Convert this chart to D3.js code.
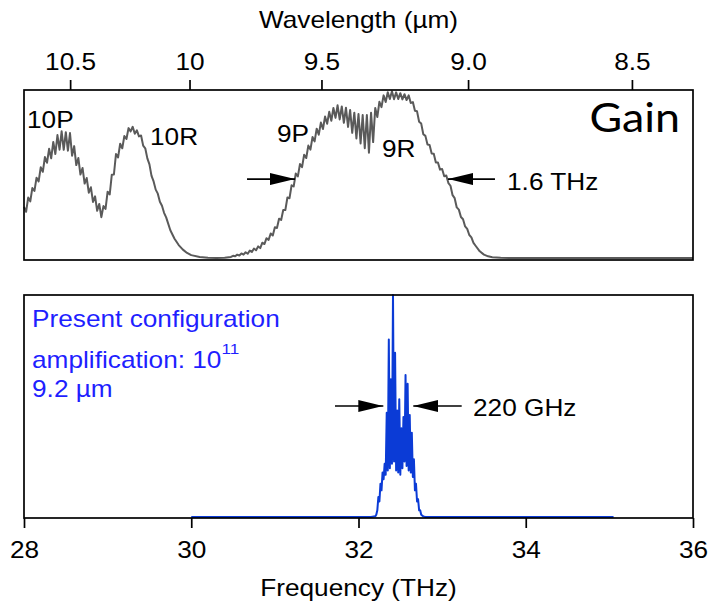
<!DOCTYPE html>
<html>
<head>
<meta charset="utf-8">
<script src="https://cdn.jsdelivr.net/npm/d3@7"></script>
<style>
  body { margin: 0; background: #fff; }
</style>
</head>
<body>
<svg id="chart" width="709" height="607"></svg>
<script>
const C_LIGHT = 299.792458; // THz * um

const freqTicks = [28, 30, 32, 34, 36];
const wavelengthTicks = [10.5, 10, 9.5, 9.0, 8.5];
const wavelengthLabels = ["10.5", "10", "9.5", "9.0", "8.5"];

// CO2 gain spectrum, [frequency THz, gain arb. units]
const gainCurve = [
  [28.000,30.4],[28.025,27.5],[28.050,36.0],[28.075,33.7],[28.100,41.7],[28.125,39.9],[28.150,47.8],[28.175,45.6],
  [28.200,54.0],[28.225,51.3],[28.250,60.1],[28.275,56.7],[28.300,65.0],[28.325,59.3],[28.350,69.1],[28.375,61.9],
  [28.400,73.2],[28.425,64.5],[28.450,75.4],[28.475,64.4],[28.500,74.9],[28.525,63.9],[28.550,74.4],[28.575,60.9],
  [28.600,66.6],[28.625,55.3],[28.650,59.5],[28.675,49.7],[28.700,53.6],[28.725,44.3],[28.750,47.6],[28.775,38.9],
  [28.800,42.1],[28.825,33.4],[28.850,36.7],[28.875,28.1],[28.900,32.2],[28.925,24.3],[28.950,30.9],[28.975,29.2],
  [29.000,39.5],[29.025,37.8],[29.050,49.6],[29.075,49.7],[29.100,61.9],[29.125,59.9],[29.150,68.0],[29.175,65.3],
  [29.200,72.6],[29.225,70.8],[29.250,77.3],[29.275,75.4],[29.300,78.1],[29.325,74.0],[29.350,76.0],[29.375,72.4],
  [29.400,72.9],[29.425,66.9],[29.450,65.3],[29.475,59.3],[29.500,55.7],[29.525,48.9],[29.550,45.6],[29.575,40.7],
  [29.600,38.3],[29.625,33.5],[29.650,31.1],[29.675,26.9],[29.700,24.2],
  [29.75,16.5],[29.80,11.5],[29.85,7.7],[29.90,5.0],[29.95,3.0],[30.00,1.7],[30.10,0.6],[30.20,0.1],[30.30,0.0],
  [30.40,0.1],[30.475,0.6],
  [30.500,1.3],[30.525,1.0],[30.550,2.0],[30.575,1.5],[30.600,2.7],[30.625,2.0],[30.650,3.4],[30.675,2.5],
  [30.700,4.4],[30.725,3.6],[30.750,5.6],[30.775,4.6],[30.800,6.9],[30.825,5.9],[30.850,9.1],[30.875,8.3],
  [30.900,11.8],[30.925,10.8],[30.950,14.6],[30.975,13.4],[31.000,18.3],[31.025,17.9],[31.050,23.4],[31.075,22.6],
  [31.100,28.6],[31.125,28.5],[31.150,36.0],[31.175,35.6],[31.200,43.3],[31.225,42.6],[31.250,50.3],[31.275,48.6],
  [31.300,55.9],[31.325,54.1],[31.350,61.5],[31.375,59.5],[31.400,66.9],[31.425,64.5],[31.450,72.0],[31.475,69.4],
  [31.500,77.0],[31.525,73.4],[31.550,80.6],[31.575,76.8],[31.600,84.2],[31.625,79.9],[31.650,87.0],[31.675,81.7],
  [31.700,89.3],[31.725,83.4],[31.750,90.9],[31.775,82.5],[31.800,90.2],[31.825,80.5],[31.850,89.5],[31.875,78.0],
  [31.900,88.1],[31.925,74.5],[31.950,86.5],[31.975,71.2],[32.000,85.7],[32.025,68.2],[32.050,85.1],[32.075,65.3],
  [32.100,85.1],[32.125,62.7],[32.150,86.5],[32.175,69.0],[32.200,89.3],[32.225,83.9],[32.250,93.0],[32.275,89.8],
  [32.300,96.8],[32.325,92.9],[32.350,98.7],[32.375,94.6],[32.400,99.2],[32.425,94.5],[32.450,98.6],[32.475,94.6],
  [32.500,98.1],[32.525,94.4],[32.550,97.5],[32.575,94.0],[32.600,96.8],[32.625,92.3],[32.650,92.8],[32.675,87.6],
  [32.700,87.3],[32.725,81.1],[32.750,80.0],[32.775,73.7],[32.800,72.7],[32.825,67.5],[32.850,67.3],[32.875,62.2],
  [32.900,62.0],[32.925,56.9],[32.950,56.9],[32.975,52.6],[33.000,53.0],[33.025,48.7],[33.050,49.1],[33.075,44.6],
  [33.100,43.0],[33.125,37.4],[33.150,35.6],[33.175,30.1],[33.200,28.8],[33.225,24.4],[33.250,23.1],[33.275,18.8],
  [33.300,17.3],[33.325,13.7],[33.350,12.3],[33.375,9.0],[33.400,7.3],
  [33.45,4.0],[33.50,2.0],[33.55,1.0],[33.60,0.5],[33.70,0.2],[33.80,0.05],[34.00,0],[36.00,0]
];

// amplified pulse spectrum, [frequency THz, normalised intensity]
const pulseSpectrum = [
  [30.00,0],[32.15,0],[32.20,0.003],[32.2125,0.01],[32.225,0.03],[32.2375,0.09],[32.25,0.07],[32.2625,0.15],
  [32.275,0.12],[32.2875,0.20],[32.30,0.17],[32.3125,0.24],[32.325,0.19],[32.3375,0.47],[32.35,0.21],
  [32.3625,0.80],[32.375,0.22],[32.3875,0.62],[32.40,0.24],[32.4125,1.00],[32.425,0.25],[32.4375,0.74],
  [32.45,0.21],[32.4625,0.48],[32.475,0.20],[32.4875,0.53],[32.50,0.19],[32.5125,0.40],[32.525,0.22],
  [32.5375,0.45],[32.55,0.25],[32.5625,0.64],[32.575,0.23],[32.5875,0.60],[32.60,0.21],[32.6125,0.46],
  [32.625,0.20],[32.6375,0.38],[32.65,0.18],[32.6625,0.26],[32.675,0.12],[32.6875,0.15],[32.70,0.07],
  [32.7125,0.08],[32.725,0.03],[32.7375,0.03],[32.75,0.01],[32.775,0.003],[32.80,0],[35.05,0]
];

const gainNotes = [
  { text: "10P", f: 28.036, g: 77.4 },
  { text: "10R", f: 29.507, g: 67.3 },
  { text: "9P", f: 31.025, g: 69.0 },
  { text: "9R", f: 32.281, g: 60.1 },
  { text: "1.6 THz", f: 33.776, g: 40.5 }
];
const gainArrows = [
  { from: 30.667, to: 31.241, g: 47 },
  { from: 33.632, to: 33.070, g: 47 }
];
const pulseArrows = [
  { from: 31.719, to: 32.297, v: 0.5 },
  { from: 33.234, to: 32.655, v: 0.5 }
];
const configLines = [
  { text: "Present configuration", v: 0.856 },
  { text: "amplification: 10", sup: "11", v: 0.671 },
  { text: "9.2 \u00b5m", v: 0.541 }
];

const FONT = "'Liberation Sans', Arial, Helvetica, sans-serif";
const SX = 1.14; // the figure is a bit wider than its text
const svg = d3.select("#chart");

const x = d3.scaleLinear().domain([28, 36]).range([24, 693]);
const yGain = d3.scaleLinear().domain([0, 100]).range([258, 90]);
const yPulse = d3.scaleLinear().domain([0, 1]).range([517, 295]);

const panelTop = { y0: 90, y1: 260 };
const panelBot = { y0: 295, y1: 518 };

// arrow head
svg.append("defs").append("marker")
    .attr("id", "head")
    .attr("markerUnits", "userSpaceOnUse")
    .attr("markerWidth", 25).attr("markerHeight", 12)
    .attr("refX", 25).attr("refY", 6)
    .attr("orient", "auto")
  .append("path")
    .attr("d", "M0,0 L25,6 L0,12 Z")
    .attr("fill", "#000");

function label(x0, y0, txt, opts = {}) {
    return svg.append("text")
        .attr("transform", `translate(${x0},${y0}) scale(${opts.sx || SX},1)`)
        .attr("text-anchor", opts.anchor || "start")
        .attr("font-family", opts.family || FONT)
        .attr("font-size", opts.size || 23)
        .attr("fill", opts.color || "#000")
        .text(txt);
}

// curves
const gainLine = d3.line().x(d => x(d[0])).y(d => yGain(d[1]));
svg.append("path")
    .datum(gainCurve)
    .attr("d", gainLine)
    .attr("fill", "none")
    .attr("stroke", "#5a5a5a")
    .attr("stroke-width", 2)
    .attr("stroke-linejoin", "round");

const pulseLine = d3.line().x(d => x(d[0])).y(d => yPulse(d[1]));
svg.append("path")
    .datum(pulseSpectrum)
    .attr("d", pulseLine)
    .attr("fill", "none")
    .attr("stroke", "#0b3bd6")
    .attr("stroke-width", 2)
    .attr("stroke-linejoin", "round");

// frames
[panelTop, panelBot].forEach(p => {
    svg.append("rect")
        .attr("x", x(28)).attr("y", p.y0)
        .attr("width", x(36) - x(28)).attr("height", p.y1 - p.y0)
        .attr("fill", "none")
        .attr("stroke", "#000")
        .attr("stroke-width", 1.7);
});

// bottom axis - frequency
const xAxis = svg.append("g")
    .attr("transform", `translate(0,${panelBot.y1})`)
    .call(d3.axisBottom(x).tickValues(freqTicks).tickSize(10).tickSizeOuter(0).tickPadding(14));
xAxis.select(".domain").remove();
xAxis.selectAll("line").attr("stroke-width", 1.7);
xAxis.selectAll("text")
    .attr("font-family", FONT).attr("font-size", 23).attr("fill", "#000")
    .attr("transform", `scale(${SX},1)`);

// top axis - wavelength
const wAxis = svg.append("g")
    .attr("transform", `translate(0,${panelTop.y0})`)
    .call(d3.axisTop(x)
        .tickValues(wavelengthTicks.map(l => C_LIGHT / l))
        .tickFormat((d, i) => wavelengthLabels[i])
        .tickSize(10).tickSizeOuter(0).tickPadding(10));
wAxis.select(".domain").remove();
wAxis.selectAll("line").attr("stroke-width", 1.7);
wAxis.selectAll("text")
    .attr("font-family", FONT).attr("font-size", 23).attr("fill", "#000")
    .attr("transform", `scale(${SX},1)`);

label((x(28) + x(36)) / 2, 28, "Wavelength (\u00b5m)", { anchor: "middle" });
label((x(28) + x(36)) / 2, 596, "Frequency (THz)", { anchor: "middle" });

// top panel notes
gainNotes.forEach(n => label(x(n.f), yGain(n.g), n.text));
label(x(35.845), yGain(75.2), "Gain", { anchor: "end", family: "Lato, 'Open Sans', sans-serif", size: 40, sx: 1.12 });

const arrows = gainArrows.map(a => ({ x1: x(a.from), x2: x(a.to), y: yGain(a.g) }))
    .concat(pulseArrows.map(a => ({ x1: x(a.from), x2: x(a.to), y: yPulse(a.v) })));
svg.selectAll("line.arrow")
    .data(arrows)
    .join("line")
    .attr("class", "arrow")
    .attr("x1", d => d.x1).attr("x2", d => d.x2)
    .attr("y1", d => d.y).attr("y2", d => d.y)
    .attr("stroke", "#000")
    .attr("stroke-width", 1.7)
    .attr("marker-end", "url(#head)");

// bottom panel notes
label(x(33.369), yPulse(0.455), "220 GHz");
configLines.forEach(c => {
    const t = label(x(28.096), yPulse(c.v), c.text, { color: "#1f1fff" });
    if (c.sup) {
        t.append("tspan").attr("dy", -14).attr("font-size", 15).text(c.sup);
    }
});
</script>
</body>
</html>
